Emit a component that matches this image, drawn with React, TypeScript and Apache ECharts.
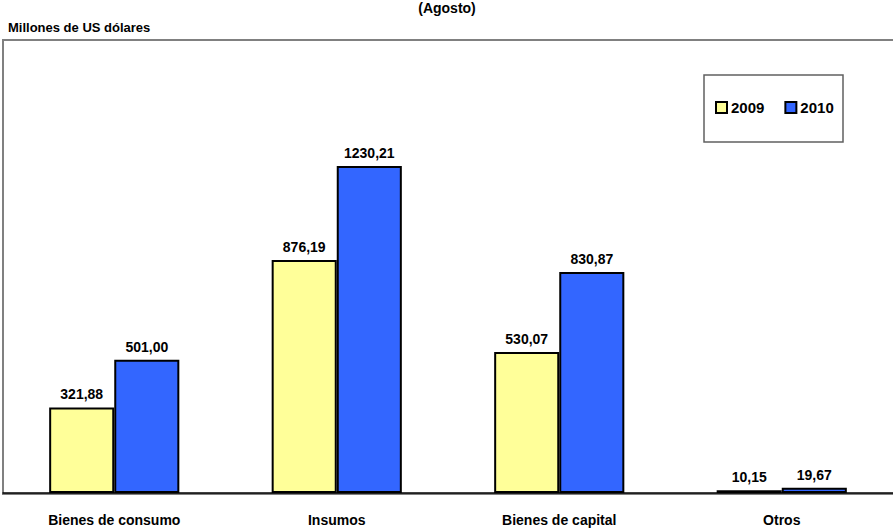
import React, { useEffect, useRef } from "react";
import * as echarts from "echarts";

const categories = ["Bienes de consumo", "Insumos", "Bienes de capital", "Otros"];
const values2009 = [321.88, 876.19, 530.07, 10.15];
const values2010 = [501.0, 1230.21, 830.87, 19.67];
const seriesNames = ["2009", "2010"];

const FONT = "'Liberation Sans Narrow', 'Arial Narrow', 'Liberation Sans', sans-serif";

const fmt = (v: number) => v.toFixed(2).replace(".", ",");

export default function App() {
  const ref = useRef<HTMLDivElement>(null);
  useEffect(() => {
    if (!ref.current) return;
    const chart = echarts.init(ref.current, undefined, { renderer: "svg" });
    const label = {
      show: true,
      position: "top" as const,
      distance: 6,
      color: "#000",
      fontFamily: FONT,
      fontWeight: "bold" as const,
      fontSize: 14,
      formatter: (p: any) => fmt(p.value),
    };
    chart.setOption({
      animation: false,
      backgroundColor: "#fff",
      textStyle: { fontFamily: FONT },
      graphic: [
        {
          type: "rect",
          shape: { x: 3, y: 40, width: 900, height: 454 },
          style: { fill: "none", stroke: "#808080", lineWidth: 2 },
          z: -1,
        },
        {
          type: "rect",
          shape: { x: 704, y: 75, width: 139, height: 67 },
          style: { fill: "#fff", stroke: "#606060", lineWidth: 1.5 },
          z: 0,
        },
        {
          type: "text",
          x: 447,
          y: 1,
          style: {
            text: "(Agosto)",
            fill: "#000",
            font: `bold 14px ${FONT}`,
            align: "center",
            verticalAlign: "top",
          },
        },
        {
          type: "text",
          x: 8,
          y: 27,
          style: {
            text: "Millones de US dólares",
            fill: "#000",
            font: `bold 13px ${FONT}`,
            align: "left",
            verticalAlign: "middle",
          },
        },
      ],
      legend: {
        data: seriesNames,
        left: 715,
        top: 100,
        padding: 0,
        itemWidth: 11,
        itemHeight: 11,
        itemGap: 20,
        icon: "rect",
        textStyle: { fontFamily: FONT, fontWeight: "bold", fontSize: 15, color: "#000", padding: [0, 0, 0, -1] },
        z: 5,
      },
      grid: { left: 3, right: 0, top: 41, bottom: 36 },
      xAxis: {
        type: "category",
        data: categories,
        axisLine: { lineStyle: { color: "#000", width: 1.5 } },
        axisTick: { show: false },
        axisLabel: {
          color: "#000",
          fontFamily: FONT,
          fontWeight: "bold",
          fontSize: 14,
          margin: 20,
          interval: 0,
        },
      },
      yAxis: {
        type: "value",
        min: 0,
        max: 1700,
        show: false,
        splitLine: { show: false },
      },
      series: [
        {
          name: seriesNames[0],
          type: "bar",
          data: values2009,
          barGap: "0%",
          barCategoryGap: "41.5%",
          itemStyle: { color: "#FFFF99", borderColor: "#000", borderWidth: 2 },
          label,
        },
        {
          name: seriesNames[1],
          type: "bar",
          data: values2010,
          itemStyle: { color: "#3366FF", borderColor: "#000", borderWidth: 2 },
          label,
        },
      ],
    });
    return () => chart.dispose();
  }, []);
  return (
    <div
      ref={ref}
      style={{ position: "fixed", left: 0, top: 0, width: 893, height: 529 }}
    />
  );
}
